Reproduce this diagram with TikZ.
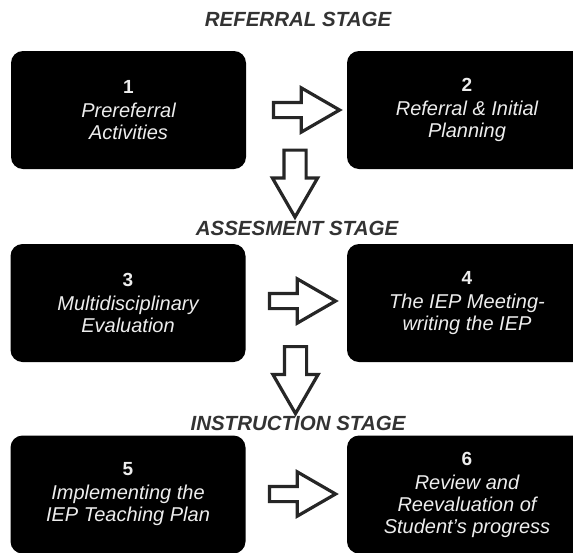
\documentclass[tikz,border=0pt]{standalone}
\usepackage{fontspec}
\setmainfont{Liberation Sans}
\usetikzlibrary{shapes.arrows}
\newcommand{\stepno}[1]{{\upshape\bfseries\fontsize{19}{22}\selectfont #1}\\[2pt]}
\begin{document}
\begin{tikzpicture}[x=1pt, y=-1pt,
    stagetitle/.style={font=\fontsize{20.5}{24}\selectfont\bfseries\itshape, text=black!80, anchor=base, inner sep=0pt},
    stepbox/.style={fill=black, rounded corners=12pt, minimum width=235pt, minimum height=118pt, text=white!93!black, align=center, font=\fontsize{20}{22}\selectfont\itshape},
    rflow/.style={single arrow, draw=black!85, fill=white, line width=3.2pt, inner sep=0pt, inner ysep=6pt, minimum height=66pt, single arrow head extend=14.5pt, single arrow tip angle=60},
    dflow/.style={rflow, inner ysep=9.5pt, single arrow head extend=11.5pt, minimum height=67pt, rotate=-90}]
    \useasboundingbox (0,0) rectangle (573,552);
    % stage titles
    \node[stagetitle] (referral) at (298,26) {REFERRAL STAGE};
    \node[stagetitle] (assess) at (297,235) {ASSESMENT STAGE};
    \node[stagetitle] (instr) at (298,430) {INSTRUCTION STAGE};
    % steps
    \node[stepbox] (s1) at (128.5,110) {\stepno{1}Prereferral\\Activities};
    \node[stepbox, minimum width=240pt] (s2) at (467,110) {\stepno{2}Referral \& Initial\\Planning};
    \node[stepbox] (s3) at (128,303) {\stepno{3}Multidisciplinary\\Evaluation};
    \node[stepbox, minimum width=240pt] (s4) at (467,303) {\stepno{4}The IEP Meeting-\\writing the IEP};
    \node[stepbox] (s5) at (128,494.5) {\stepno{5}Implementing the\\IEP Teaching Plan};
    \node[stepbox, minimum width=240pt] (s6) at (467,494.5) {\stepno{6}Review and\\Reevaluation of\\Student's progress};
    % block arrows
    \node[rflow] (a12) at (300,110) {};
    \node[dflow] (d1) at (295,174) {};
    \node[rflow] (a34) at (296,301) {};
    \node[dflow] (d2) at (295.5,370.5) {};
    \node[rflow] (a56) at (296,494) {};
\end{tikzpicture}
\end{document}
